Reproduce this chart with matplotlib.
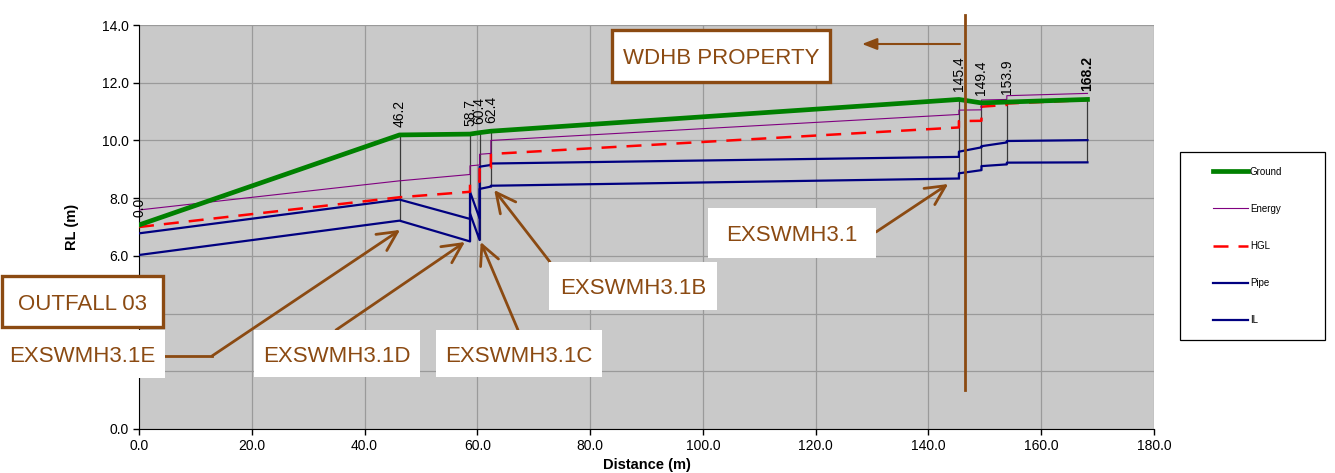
import matplotlib
matplotlib.use('Agg')
import matplotlib.pyplot as plt
from matplotlib.patches import Rectangle
from matplotlib.legend_handler import HandlerLine2D

plt.rcParams['font.family'] = ['Liberation Sans', 'DejaVu Sans']

# manhole chainages (m) and ground levels (m RL)
chainage = [0.0, 46.2, 58.7, 60.4, 62.4, 145.4, 149.4, 153.9, 168.2]
ground = [7.07, 10.19, 10.22, 10.27, 10.32, 11.42, 11.30, 11.33, 11.42]

# one value per reach, at the downstream (start) and upstream (end) manhole
energy_start = [7.59, 8.60, 9.12, 9.52, 10.00, 11.05, 11.40, 11.55]
energy_end = [8.60, 8.82, 9.15, 9.55, 10.90, 11.06, 11.42, 11.63]
hgl_start = [7.00, 8.03, 8.52, 9.01, 9.53, 10.67, 11.17, 11.28]
hgl_end = [8.03, 8.22, 8.57, 9.05, 10.45, 10.68, 11.23, 11.40]
pipe_start = [6.78, 7.95, 8.22, 9.09, 9.20, 9.61, 9.80, 9.98]
pipe_end = [7.95, 7.28, 7.30, 9.15, 9.43, 9.76, 9.93, 10.01]
il_start = [6.03, 7.22, 7.47, 8.32, 8.43, 8.86, 9.11, 9.23]
il_end = [7.22, 6.50, 6.55, 8.40, 8.68, 8.97, 9.17, 9.24]

# callouts: label, arrow tip (distance, RL)
callouts = [
    ('EXSWMH3.1E', (46.3, 6.90)),
    ('EXSWMH3.1D', (57.8, 6.48)),
    ('EXSWMH3.1C', (60.6, 6.48)),
    ('EXSWMH3.1B', (63.0, 8.28)),
    ('EXSWMH3.1', (143.5, 8.49)),
]
boundary_x = 146.5

W, H = 1335, 473
brown = '#8B4A12'


def fx(px):
    return px / W


def fy(py):
    return 1 - py / H


def px_to_data(px, py):
    # pixel on the page -> data coords of the main axes
    return ((px - 139) / (1154 - 139) * 180.0, (429 - py) / (429 - 25) * 14.0)


def reach_line(s, e):
    xs, ys = [], []
    for i in range(len(s)):
        xs += [chainage[i], chainage[i + 1]]
        ys += [s[i], e[i]]
    return xs, ys


fig = plt.figure(figsize=(W / 100, H / 100), dpi=100)
ax = fig.add_axes([fx(139), fy(429), fx(1154) - fx(139), fy(25) - fy(429)])
ax.set_facecolor('#c9c9c9')

# manhole verticals
for i in range(1, len(chainage)):
    low = il_end[i - 1]
    if i < len(il_start):
        low = min(low, il_start[i])
    ax.vlines(chainage[i], low, ground[i], color='#3a3a3a', lw=0.9, zorder=2)

x, y = reach_line(il_start, il_end)
ax.plot(x, y, color='#000080', lw=1.6, label='IL', zorder=3)
x, y = reach_line(pipe_start, pipe_end)
ax.plot(x, y, color='#000080', lw=1.6, label='Pipe', zorder=3)
x, y = reach_line(hgl_start, hgl_end)
ax.plot(x, y, color='#ff0000', lw=1.8, ls=(0, (6, 4)), label='HGL', zorder=4)
x, y = reach_line(energy_start, energy_end)
ax.plot(x, y, color='#800080', lw=0.8, label='Energy', zorder=4)
ax.plot(chainage, ground, color='#008000', lw=3.4, label='Ground', zorder=5)

# chainage labels
for c, g in zip(chainage, ground):
    ax.annotate(f'{c:.1f}', xy=(c, g), xytext=(0, 6), textcoords='offset points',
                rotation=90, ha='center', va='bottom', fontsize=10,
                fontweight='bold' if c == chainage[-1] else 'normal', zorder=6)

ax.set_xlim(0, 180)
ax.set_ylim(0, 14)
ax.set_xticks(range(0, 181, 20))
ax.set_yticks(range(0, 15, 2))
ax.set_xticklabels([f'{v:.1f}' for v in range(0, 181, 20)])
# 2.0 and 4.0 sit under the callout boxes in the original
ax.set_yticklabels(['' if v in (2, 4) else f'{v:.1f}' for v in range(0, 15, 2)])
ax.tick_params(direction='out', length=4, labelsize=10, width=1)
ax.grid(True, color='#9a9a9a', lw=0.9)
ax.set_axisbelow(True)
for s in ['top', 'right']:
    ax.spines[s].set_visible(False)
ax.set_xlabel('Distance (m)', fontsize=10.5, fontweight='bold', labelpad=3)
ax.set_ylabel('RL (m)', fontsize=10.5, fontweight='bold', labelpad=16)

# legend
h, l = ax.get_legend_handles_labels()
order = ['Ground', 'Energy', 'HGL', 'Pipe', 'IL']
hs = [h[l.index(n)] for n in order]
leg = fig.legend(hs, order, loc='upper left',
                 bbox_to_anchor=(fx(1180), fy(152), fx(1325) - fx(1180), 0),
                 mode='expand', borderaxespad=0, fontsize=7, borderpad=1.5,
                 labelspacing=2.8, handlelength=5.5, handletextpad=0.2,
                 fancybox=False, framealpha=1, edgecolor='black',
                 handler_map={hh: HandlerLine2D(xpad=1.9) for hh in hs})
leg.get_frame().set_linewidth(0.9)

# property boundary
ax.plot([boundary_x, boundary_x], [px_to_data(0, 390)[1], px_to_data(0, 15)[1]],
        color=brown, lw=2, clip_on=False, zorder=7)
ax.annotate('', xy=px_to_data(862, 44), xytext=px_to_data(960, 44),
            arrowprops=dict(arrowstyle='-|>,head_length=0.9,head_width=0.35',
                            color=brown, lw=1.5, shrinkA=0, shrinkB=0),
            annotation_clip=False, zorder=7)


def label_box(x0, y0, x1, y1, text, edge=True):
    fig.patches.append(Rectangle((fx(x0), fy(y1)), fx(x1) - fx(x0), fy(y0) - fy(y1),
                                 transform=fig.transFigure, fc='white',
                                 ec=brown if edge else 'none', lw=2.4, zorder=8))
    fig.text(fx((x0 + x1) / 2), fy((y0 + y1) / 2 + 8), text, ha='center',
             va='baseline', color=brown, fontsize=16, zorder=9)


# leader lines: tail pixel for each callout
tails = [(212, 356), (336, 330), (518, 330), (550, 262), (876, 232)]
for (name, tip), tail in zip(callouts, tails):
    ax.annotate('', xy=tip, xytext=px_to_data(*tail),
                arrowprops=dict(arrowstyle='->,head_length=0.7,head_width=0.35',
                                color=brown, lw=2, shrinkA=0, shrinkB=0,
                                mutation_scale=20),
                zorder=7)
ax.plot([px_to_data(165, 356)[0], px_to_data(212, 356)[0]], [px_to_data(0, 356)[1]] * 2,
        color=brown, lw=2, zorder=7)

label_box(612, 30, 830, 82, 'WDHB PROPERTY')
label_box(2, 276, 163, 327, 'OUTFALL 03')
label_box(0, 330, 165, 378, 'EXSWMH3.1E', edge=False)
label_box(254, 330, 420, 377, 'EXSWMH3.1D', edge=False)
label_box(436, 330, 602, 377, 'EXSWMH3.1C', edge=False)
label_box(549, 262, 717, 310, 'EXSWMH3.1B', edge=False)
label_box(708, 208, 876, 258, 'EXSWMH3.1', edge=False)

fig.savefig('out.png', dpi=100)
